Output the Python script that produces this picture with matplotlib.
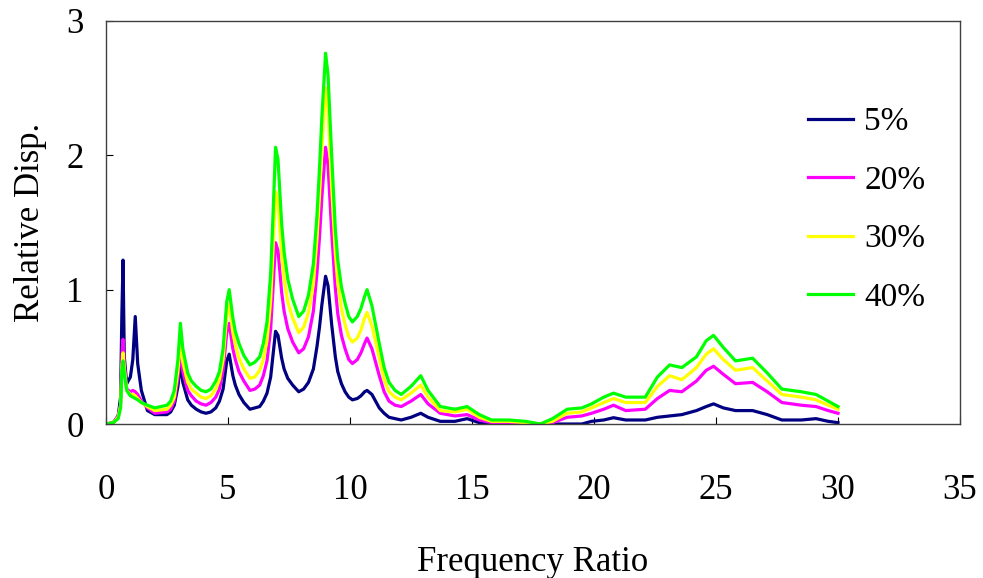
import matplotlib
matplotlib.use("Agg")
import matplotlib.pyplot as plt

plt.rcParams['font.family'] = ['Liberation Serif', 'DejaVu Serif']

# ── data ─────────────────────────────────────────────────────────────────
freq_ratio = [0, 0.3, 0.5, 0.6, 0.65, 0.7, 0.75, 0.85, 1.0, 1.1, 1.2, 1.3, 1.45, 1.7, 2.0, 2.5,
              2.65, 2.8, 2.95, 3.05, 3.15, 3.35, 3.5, 3.7, 3.9,
              4.1, 4.3, 4.5, 4.65, 4.8, 4.95, 5.05, 5.2, 5.3, 5.45, 5.65,
              5.9, 6.1, 6.3, 6.45, 6.6, 6.75, 6.85, 6.95, 7.05, 7.2, 7.3, 7.45, 7.65,
              7.9, 8.1, 8.3, 8.5, 8.65, 8.75, 8.85, 9.0, 9.1, 9.25, 9.4, 9.5, 9.65, 9.8, 9.95,
              10.1, 10.3, 10.45, 10.6, 10.7, 10.9, 11.05, 11.2, 11.4, 11.6, 11.85,
              12.1, 12.5, 12.9, 13.2, 13.7, 14.3, 14.8, 15.3, 15.8, 16.5, 17.2, 17.8,
              18.3, 18.9, 19.5, 19.9, 20.4, 20.8, 21.3, 22.1, 22.6, 23.1, 23.6, 24.2,
              24.6, 24.9, 25.3, 25.8, 26.5, 27.1, 27.7, 28.5, 29.1, 29.6, 30.0]

disp_5 = [0, 0.01, 0.06, 0.2, 0.8, 1.22, 0.5, 0.3, 0.35, 0.48, 0.8, 0.45, 0.25, 0.1, 0.07, 0.07,
          0.09, 0.14, 0.28, 0.45, 0.31, 0.18, 0.14, 0.11, 0.09,
          0.08, 0.09, 0.12, 0.17, 0.26, 0.47, 0.52, 0.36, 0.29, 0.22, 0.16,
          0.11, 0.12, 0.13, 0.17, 0.23, 0.35, 0.52, 0.69, 0.66, 0.49, 0.41, 0.34, 0.29,
          0.24, 0.26, 0.31, 0.41, 0.58, 0.72, 0.89, 1.10, 1.03, 0.74, 0.5, 0.39, 0.3, 0.24, 0.2,
          0.18, 0.19, 0.21, 0.24, 0.25, 0.22, 0.17, 0.12, 0.08, 0.05, 0.04,
          0.03, 0.05, 0.08, 0.05, 0.02, 0.02, 0.04, 0.01, 0.0, 0.0, 0.0, 0.0,
          0.0, 0.0, 0.0, 0.02, 0.03, 0.047, 0.03, 0.03, 0.05, 0.06, 0.07, 0.1,
          0.13, 0.15, 0.12, 0.1, 0.1, 0.07, 0.03, 0.03, 0.04, 0.02, 0.01]

disp_20 = [0, 0.01, 0.06, 0.15, 0.5, 0.63, 0.45, 0.26, 0.24, 0.25, 0.24, 0.22, 0.17, 0.12, 0.08, 0.09,
           0.11, 0.17, 0.34, 0.55, 0.39, 0.25, 0.21, 0.17, 0.15,
           0.14, 0.16, 0.2, 0.26, 0.4, 0.68, 0.75, 0.56, 0.48, 0.39, 0.32,
           0.25, 0.26, 0.29, 0.36, 0.47, 0.71, 1.02, 1.35, 1.29, 0.98, 0.84, 0.71, 0.61,
           0.53, 0.56, 0.65, 0.84, 1.13, 1.39, 1.69, 2.06, 1.93, 1.43, 1.01, 0.82, 0.66, 0.56, 0.48,
           0.45, 0.48, 0.53, 0.6, 0.64, 0.56, 0.46, 0.36, 0.24, 0.17, 0.14,
           0.13, 0.17, 0.22, 0.15, 0.08, 0.06, 0.07, 0.03, 0.01, 0.01, 0.01, 0.0,
           0.01, 0.05, 0.06, 0.08, 0.11, 0.14, 0.1, 0.11, 0.19, 0.25, 0.24, 0.32,
           0.4, 0.43, 0.37, 0.3, 0.31, 0.24, 0.16, 0.14, 0.13, 0.1, 0.08]

disp_30 = [0, 0.01, 0.05, 0.14, 0.42, 0.53, 0.42, 0.25, 0.22, 0.22, 0.21, 0.19, 0.16, 0.13, 0.1, 0.11,
           0.14, 0.2, 0.4, 0.63, 0.46, 0.31, 0.26, 0.23, 0.2,
           0.19, 0.21, 0.26, 0.33, 0.48, 0.81, 0.89, 0.68, 0.59, 0.49, 0.41,
           0.34, 0.35, 0.4, 0.48, 0.62, 0.92, 1.31, 1.73, 1.66, 1.26, 1.08, 0.91, 0.79,
           0.68, 0.72, 0.83, 1.04, 1.39, 1.7, 2.06, 2.5, 2.35, 1.76, 1.27, 1.05, 0.86, 0.74, 0.65,
           0.61, 0.64, 0.7, 0.79, 0.83, 0.73, 0.61, 0.49, 0.33, 0.24, 0.2,
           0.18, 0.23, 0.29, 0.2, 0.1, 0.09, 0.11, 0.05, 0.02, 0.02, 0.01, 0.0,
           0.02, 0.08, 0.09, 0.12, 0.16, 0.19, 0.16, 0.16, 0.28, 0.36, 0.33, 0.42,
           0.52, 0.56, 0.48, 0.4, 0.42, 0.32, 0.22, 0.2, 0.18, 0.14, 0.11]

disp_40 = [0, 0.01, 0.04, 0.12, 0.4, 0.47, 0.38, 0.25, 0.21, 0.2, 0.19, 0.18, 0.16, 0.14, 0.12, 0.14,
           0.17, 0.25, 0.48, 0.75, 0.56, 0.38, 0.32, 0.28, 0.25,
           0.24, 0.26, 0.32, 0.39, 0.56, 0.91, 1.0, 0.79, 0.69, 0.6, 0.51,
           0.44, 0.46, 0.5, 0.6, 0.76, 1.12, 1.57, 2.06, 1.97, 1.49, 1.28, 1.08, 0.93,
           0.8, 0.84, 0.96, 1.19, 1.56, 1.9, 2.29, 2.76, 2.6, 2.0, 1.45, 1.22, 1.02, 0.9, 0.8,
           0.76, 0.8, 0.86, 0.95, 1.0, 0.88, 0.74, 0.6, 0.42, 0.31, 0.25,
           0.22, 0.28, 0.36, 0.25, 0.13, 0.11, 0.13, 0.07, 0.03, 0.03, 0.02, 0.0,
           0.04, 0.11, 0.12, 0.15, 0.2, 0.23, 0.2, 0.2, 0.35, 0.44, 0.42, 0.5,
           0.62, 0.66, 0.57, 0.47, 0.49, 0.38, 0.26, 0.24, 0.22, 0.17, 0.13]

series_labels = ["5%", "20%", "30%", "40%"]
series_colors = ["#000080", "#FF00FF", "#FFFF00", "#00FF00"]

x_ticks = [0, 5, 10, 15, 20, 25, 30, 35]
y_ticks = [0, 1, 2, 3]

# ── figure ───────────────────────────────────────────────────────────────
fig = plt.figure(figsize=(9.83, 5.78), dpi=100)
ax = fig.add_axes([0.1078, 0.2664, 0.8688, 0.6973])

for vals, lab, col in zip([disp_5, disp_20, disp_30, disp_40], series_labels, series_colors):
    ax.plot(freq_ratio, vals, color=col, lw=2.3, label=lab)

ax.set_xlim(0, 35)
ax.set_ylim(0, 3)
ax.set_xticks(x_ticks)
ax.set_yticks(y_ticks)
ax.tick_params(axis='both', direction='in', length=5, width=0.8, labelsize=25)
ax.tick_params(axis='x', pad=36)
ax.tick_params(axis='y', pad=16)
for sp in ax.spines.values():
    sp.set_linewidth(1.0)
    sp.set_color('#404040')

ax.set_xlabel("Frequency Ratio", fontsize=25, labelpad=28)
ax.set_ylabel("Relative Disp.", fontsize=25, labelpad=14)

ax.legend(loc='upper left', bbox_to_anchor=(0.802, 0.828), frameon=False, fontsize=24,
          handlelength=1.35, handletextpad=0.35, labelspacing=0.84, borderpad=0)

fig.savefig("out.png", dpi=100)
